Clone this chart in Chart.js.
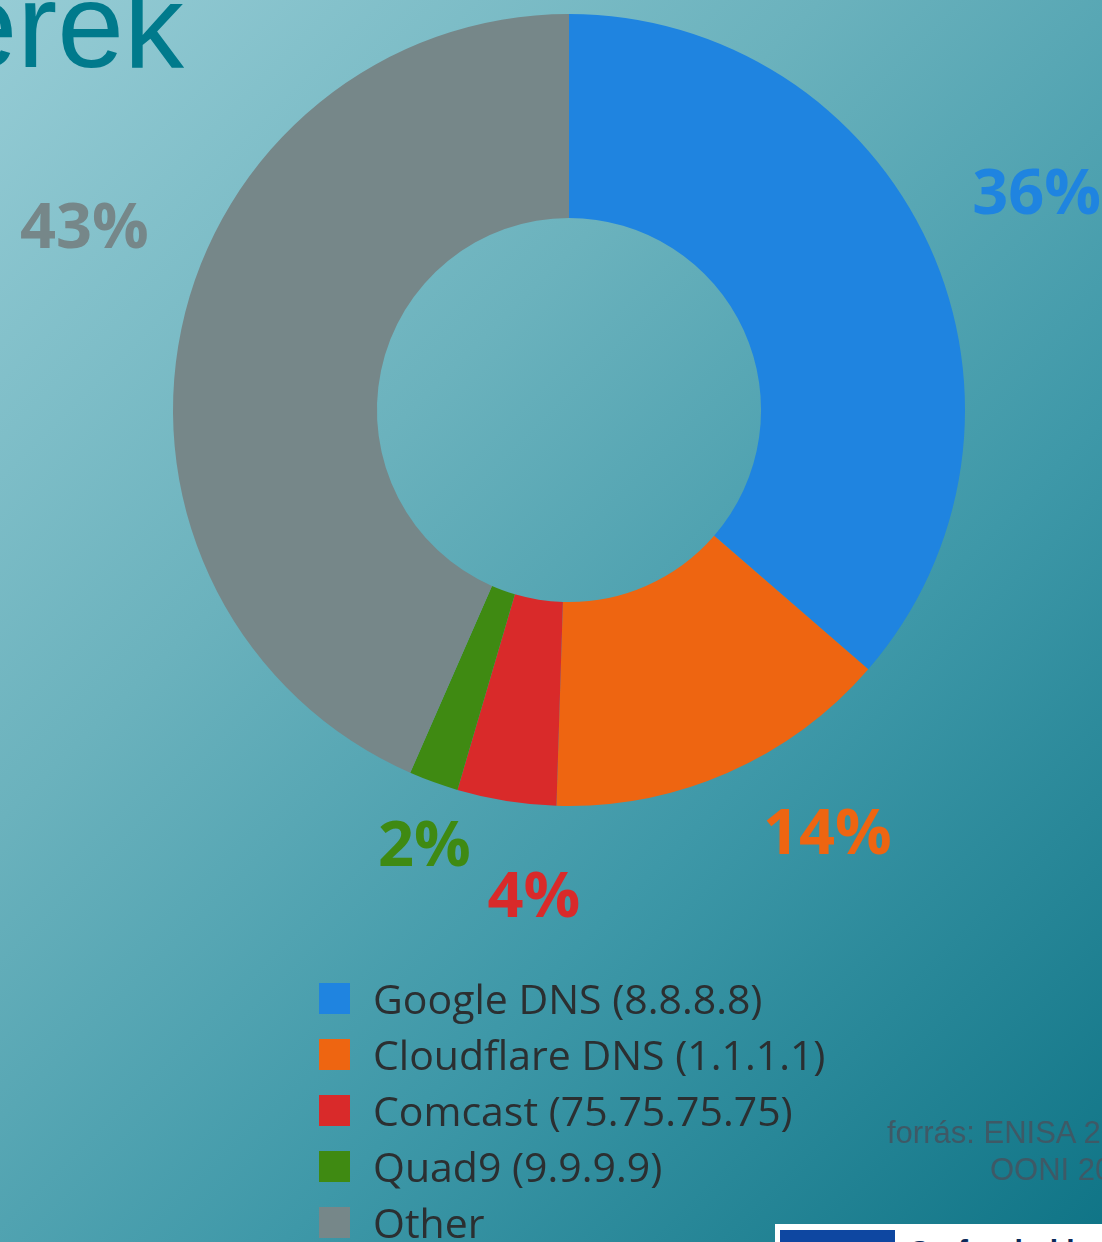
<!DOCTYPE html>
<html>
<head>
<meta charset="utf-8">
<script src="https://cdn.jsdelivr.net/npm/chart.js@4/dist/chart.umd.min.js"></script>
<style>
  html, body { margin: 0; padding: 0; }
  body {
    width: 1102px; height: 1242px; overflow: hidden; position: relative;
    background: linear-gradient(135deg, #96ccd5 0%, #6bb2bd 35%, #3e98a8 65%, #0f7486 100%);
    font-family: "Open Sans", sans-serif;
  }
  #chart { position: absolute; left: 0; top: 0; }
  .title {
    position: absolute; right: 918px; top: -35px;
    font-family: "Liberation Sans", Arial, sans-serif; font-size: 120px;
    color: #007a8c; white-space: nowrap; line-height: 1;
  }
  #legend { position: absolute; left: 319px; top: 970px; }
  .item { height: 56px; display: flex; align-items: center; }
  .box { width: 31px; height: 31px; margin-right: 23px; }
  .item span { font-size: 41px; color: #2b2f31; white-space: nowrap; }
  .source {
    position: absolute; left: 887px; top: 1114px;
    font-family: "Liberation Sans", Arial, sans-serif; font-size: 31px;
    color: #3e5966; white-space: nowrap; line-height: 37px;
  }
  .logo { position: absolute; left: 775px; top: 1224px; width: 340px; height: 30px; background: #fff; }
  .logo .flag { position: absolute; left: 5px; top: 6px; width: 115px; height: 30px; background: #0e47a1; }
  .logo .txt { position: absolute; left: 133px; top: 10px; font: bold 30px "Liberation Sans", Arial, sans-serif; color: #0b2a5a; white-space: nowrap; }
</style>
</head>
<body>
<div class="title">erek</div>
<canvas id="chart" width="1102" height="1242"></canvas>
<div id="legend"></div>
<div class="source">forrás: ENISA 2024<br><span style="padding-left:103px">OONI 2024</span></div>
<div class="logo"><div class="flag"></div><div class="txt">Co-funded by the</div></div>
<script>
const labels = ['Google DNS (8.8.8.8)', 'Cloudflare DNS (1.1.1.1)', 'Comcast (75.75.75.75)', 'Quad9 (9.9.9.9)', 'Other'];
const shares = [36, 14, 4, 2, 43];
const colors = ['#1f84e0', '#ee6511', '#d92a2a', '#3f8a12', '#768789'];

// label placement around each slice: angle nudge (rad) and distance from centre (px)
const labelPlace = [
    { da: 0.0, r: 514 },
    { da: -0.133, r: 498 },
    { da: -0.087, r: 490 },
    { da: -0.03, r: 461 },
    { da: 0.15, r: 517 }
];

const pctLabels = {
    id: 'pctLabels',
    afterDatasetsDraw(chart) {
        const ctx = chart.ctx;
        const meta = chart.getDatasetMeta(0);
        ctx.save();
        ctx.font = 'bold 63px "Open Sans"';
        ctx.textAlign = 'center';
        ctx.textBaseline = 'middle';
        meta.data.forEach((arc, i) => {
            const p = arc.getProps(['x', 'y', 'startAngle', 'endAngle']);
            const a = (p.startAngle + p.endAngle) / 2 + labelPlace[i].da;
            ctx.fillStyle = colors[i];
            ctx.fillText(shares[i] + '%', p.x + Math.cos(a) * labelPlace[i].r, p.y + Math.sin(a) * labelPlace[i].r);
        });
        ctx.restore();
    }
};

new Chart(document.getElementById('chart'), {
    type: 'doughnut',
    data: {
        labels: labels,
        datasets: [{
            data: shares,
            backgroundColor: colors,
            borderWidth: 0
        }]
    },
    options: {
        responsive: false,
        animation: false,
        cutout: '48.5%',
        layout: { padding: { left: 173, right: 137, top: 14, bottom: 436 } },
        plugins: { legend: { display: false }, tooltip: { enabled: false } }
    },
    plugins: [pctLabels]
});

const legend = document.getElementById('legend');
labels.forEach((l, i) => {
    const row = document.createElement('div');
    row.className = 'item';
    row.innerHTML = '<div class="box" style="background:' + colors[i] + '"></div><span>' + l + '</span>';
    legend.appendChild(row);
});
</script>
</body>
</html>
